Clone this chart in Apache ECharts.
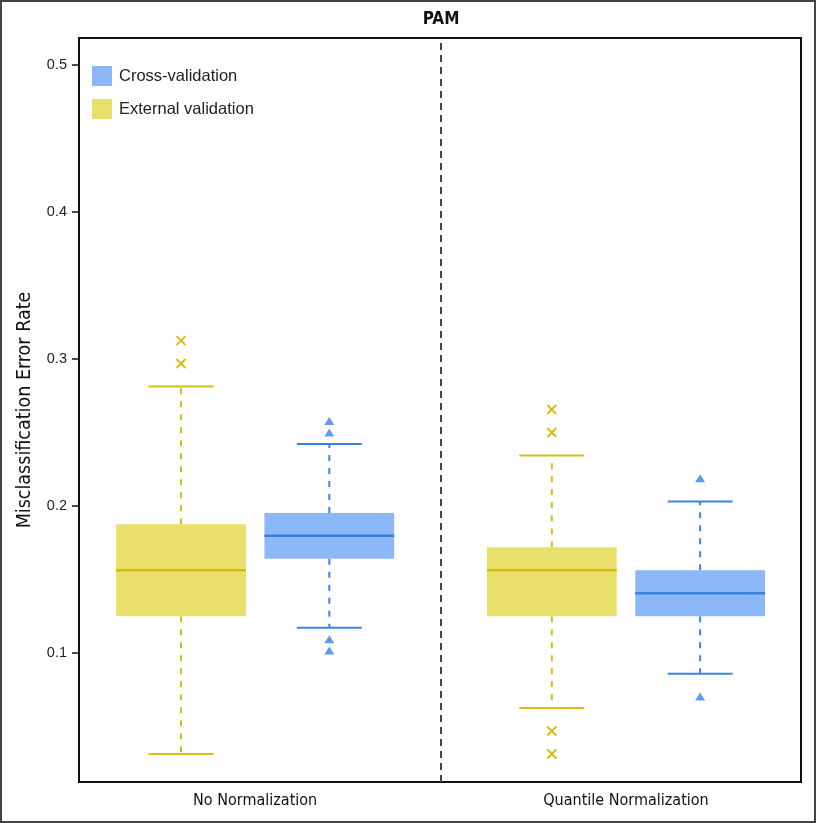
<!DOCTYPE html>
<html>
<head>
<meta charset="utf-8">
<script src="https://cdn.jsdelivr.net/npm/echarts@6/dist/echarts.min.js"></script>
<style>
html,body{margin:0;padding:0;background:#fff;}
#chart{width:816px;height:823px;}
</style>
</head>
<body>
<div id="chart"></div>
<script>
// ---- data ----
const categories = ['No Normalization', 'Quantile Normalization'];
const yTicks = [0.1, 0.2, 0.3, 0.4, 0.5];
// [lower whisker, Q1, median, Q3, upper whisker] per category
const externalStats = [
  [0.0313, 0.125, 0.1563, 0.1875, 0.2813],
  [0.0625, 0.125, 0.1563, 0.1719, 0.2344]
];
const crossStats = [
  [0.1172, 0.1641, 0.1797, 0.1953, 0.2422],
  [0.0859, 0.125, 0.1406, 0.1563, 0.2031]
];
// outliers: [category index, value]
const externalOutliers = [[0, 0.3125], [0, 0.2969], [1, 0.2656], [1, 0.25], [1, 0.0469], [1, 0.0313]];
const crossOutliers = [[0, 0.2578], [0, 0.25], [0, 0.1094], [0, 0.1016], [1, 0.2188], [1, 0.0703]];

// ---- layout / style ----
const FONT = '"Liberation Sans", Arial, Helvetica, sans-serif';
const COND = '"DejaVu Sans Condensed", "Liberation Sans Narrow", "Liberation Sans", sans-serif';
const yellowFill = '#E9DF6B', yellowLine = '#D6BF12', yellowMed = '#D4BB00';
const blueFill = '#8DB8F8', blueLine = '#3B82E6', blueMed = '#3A80E0';
const BOX_W = 0.35;          // box width in x units
const OFFSETS = { ext: -0.2, cross: 0.2 };

function boxData(stats, off) {
  return stats.map((s, i) => [i + 1 + off].concat(s));
}
function outlierData(list, off) {
  return list.map(o => [o[0] + 1 + off, o[1]]);
}

function makeRender(fill, line, med) {
  return function (params, api) {
    const x = api.value(0);
    const lo = api.coord([x, api.value(1)]);
    const q1 = api.coord([x, api.value(2)]);
    const md = api.coord([x, api.value(3)]);
    const q3 = api.coord([x, api.value(4)]);
    const hi = api.coord([x, api.value(5)]);
    const w = api.size([BOX_W, 0])[0];
    const hw = w / 2, cw = w / 4;
    const cx = md[0];
    const dash = { stroke: line, lineWidth: 2, lineDash: [6, 7] };
    const solid = { stroke: line, lineWidth: 2 };
    return {
      type: 'group',
      children: [
        { type: 'line', shape: { x1: cx, y1: q3[1], x2: cx, y2: hi[1] }, style: dash },
        { type: 'line', shape: { x1: cx, y1: q1[1], x2: cx, y2: lo[1] }, style: dash },
        { type: 'line', shape: { x1: cx - cw, y1: hi[1], x2: cx + cw, y2: hi[1] }, style: solid },
        { type: 'line', shape: { x1: cx - cw, y1: lo[1], x2: cx + cw, y2: lo[1] }, style: solid },
        { type: 'rect', shape: { x: cx - hw, y: q3[1], width: w, height: q1[1] - q3[1] }, style: { fill: fill } },
        { type: 'line', shape: { x1: cx - hw, y1: md[1], x2: cx + hw, y2: md[1] }, style: { stroke: med, lineWidth: 2.5 } }
      ]
    };
  };
}

const chart = echarts.init(document.getElementById('chart'), null, { renderer: 'canvas' });
chart.setOption({
  backgroundColor: '#fff',
  animation: false,
  graphic: [
    { type: 'rect', shape: { x: 1, y: 1, width: 814, height: 821 }, style: { fill: 'none', stroke: '#444', lineWidth: 2 }, z: 100 },
    { type: 'text', x: 441, y: 20, style: { text: 'PAM', font: 'bold 17px ' + COND, fill: '#111', textAlign: 'center', textVerticalAlign: 'middle' } }
  ],
  legend: {
    orient: 'vertical', left: 87, top: 61,
    itemWidth: 20, itemHeight: 20, itemGap: 13,
    textStyle: { fontSize: 16.5, color: '#222', fontFamily: FONT, padding: [0, 0, 0, 2] },
    data: [
      { name: 'Cross-validation', icon: 'rect', itemStyle: { color: blueFill } },
      { name: 'External validation', icon: 'rect', itemStyle: { color: yellowFill } }
    ]
  },
  grid: { left: 79, top: 38, right: 15, bottom: 41, show: true, borderColor: '#111', borderWidth: 2, backgroundColor: 'transparent' },
  xAxis: {
    type: 'value', min: 0.525, max: 2.472,
    axisLine: { show: false }, axisTick: { show: false }, splitLine: { show: false },
    axisLabel: {
      customValues: [1, 2], margin: 11, fontSize: 16, color: '#111', fontFamily: COND,
      formatter: v => categories[Math.round(v) - 1] || ''
    }
  },
  yAxis: {
    type: 'value', min: 0.0122, max: 0.5184,
    name: 'Misclassification Error Rate', nameLocation: 'middle', nameGap: 44,
    nameTextStyle: { fontSize: 19.5, color: '#111', fontFamily: COND },
    axisLine: { show: true, lineStyle: { color: '#111', width: 2 } },
    axisTick: { show: true, customValues: yTicks, length: 7, lineStyle: { color: '#111', width: 1.5 } },
    splitLine: { show: false },
    axisLabel: { customValues: yTicks, margin: 12, fontSize: 14.5, color: '#222', fontFamily: FONT, formatter: v => v.toFixed(1) }
  },
  series: [
    {
      name: 'External validation', type: 'custom', renderItem: makeRender(yellowFill, yellowLine, yellowMed),
      encode: { x: 0, y: [1, 2, 3, 4, 5] }, itemStyle: { color: yellowFill },
      data: boxData(externalStats, OFFSETS.ext),
      markLine: {
        silent: true, symbol: 'none', label: { show: false },
        lineStyle: { type: [7, 5], color: '#444', width: 2 },
        data: [{ xAxis: 1.5 }]
      }
    },
    {
      name: 'Cross-validation', type: 'custom', renderItem: makeRender(blueFill, blueLine, blueMed),
      encode: { x: 0, y: [1, 2, 3, 4, 5] }, itemStyle: { color: blueFill },
      data: boxData(crossStats, OFFSETS.cross)
    },
    {
      name: 'External validation', type: 'scatter',
      symbol: 'path://M0,0L10,10M10,0L0,10', symbolSize: 9,
      itemStyle: { color: 'none', borderColor: yellowLine, borderWidth: 2, opacity: 1 },
      data: outlierData(externalOutliers, OFFSETS.ext)
    },
    {
      name: 'Cross-validation', type: 'scatter',
      symbol: 'triangle', symbolSize: [10, 8],
      itemStyle: { color: blueLine },
      data: outlierData(crossOutliers, OFFSETS.cross)
    }
  ]
});
</script>
</body>
</html>
